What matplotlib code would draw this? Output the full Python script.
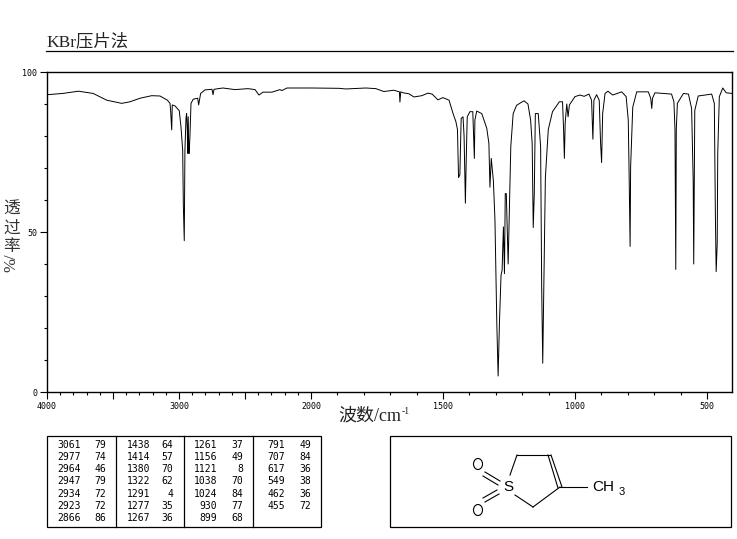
import matplotlib
matplotlib.use('Agg')
import numpy as np
import matplotlib.pyplot as plt
from matplotlib.patches import Ellipse

plt.rcParams['font.family'] = ['Noto Sans CJK SC', 'DejaVu Sans']

# spectrum, wavenumber / %T
wavenumber = [4000, 3880, 3762, 3650, 3548, 3434, 3371, 3295, 3207, 3144, 3088, 3068, 3063, 3055, 3051,
              3030, 2998, 2985, 2972, 2967, 2960, 2955, 2947, 2942, 2937, 2934, 2930, 2926, 2923, 2917,
              2909, 2892, 2858, 2851, 2836, 2803, 2750, 2742, 2735, 2667, 2576, 2477, 2424, 2394, 2364,
              2296, 2235, 2220, 2182, 2106, 2000, 1894, 1868, 1792, 1754, 1724, 1686, 1665, 1663, 1660,
              1651, 1629, 1610, 1580, 1557, 1541, 1519, 1500, 1477, 1462, 1451, 1445, 1441, 1436, 1431,
              1424, 1420, 1415, 1412, 1408, 1398, 1387, 1381, 1379, 1372, 1353, 1334, 1326, 1322, 1317,
              1309, 1303, 1296, 1291, 1286, 1280, 1276, 1271, 1267, 1264, 1260, 1253, 1246, 1243, 1234,
              1221, 1193, 1178, 1168, 1162, 1158, 1154, 1150, 1139, 1130, 1126, 1122, 1118, 1112, 1101,
              1085, 1059, 1047, 1043, 1040, 1037, 1031, 1026, 1021, 1000, 981, 965, 947, 937, 932,
              928, 918, 908, 903, 899, 895, 886, 875, 857, 823, 806, 798, 795, 791, 789,
              781, 766, 722, 713, 709, 706, 697, 634, 625, 621, 618, 616, 612, 589, 570,
              558, 552, 550, 548, 546, 533, 482, 472, 468, 465, 461, 459, 453, 440, 427, 405]
transmittance = [92.9, 93.3, 94, 93.3, 91.2, 90.2, 90.7, 91.8, 92.6, 92.5, 91.2, 90.2, 87.6, 81.9, 89.7,
                 89.4, 87.9, 82.9, 75.6, 58.4, 47.3, 75.6, 85.5, 87, 81.9, 74.6, 86, 74.6, 74.5, 80,
                 90.2, 91.5, 91.8, 89.7, 93.3, 94.4, 94.6, 92.9, 94.6, 95, 94.5, 94.8, 94.5, 92.8, 93.7,
                 93.7, 94.5, 94.2, 95, 95, 95, 94.9, 94.7, 95, 94.8, 93.9, 94.3, 93.8, 90.6, 93.8,
                 93.5, 93.2, 92.2, 92.6, 93.4, 93.1, 91.3, 92, 91.2, 87.1, 84.5, 82, 67, 67.8, 85.5,
                 86, 80, 59, 72, 86, 87.6, 87.6, 73, 85, 87.8, 87, 82.4, 77.7, 64, 73,
                 66, 53.8, 21.5, 5, 21.5, 36.5, 38, 51.6, 37, 62, 62, 40, 66, 76.7, 87,
                 89.6, 91, 90, 85, 77.7, 51.4, 62, 87, 87, 76.7, 33, 9, 33, 67, 82,
                 87.6, 90.7, 90.7, 82, 73, 84, 90, 86, 89.7, 92.3, 92.8, 92.4, 93.1, 91.2, 79,
                 91.2, 92.9, 91.2, 78, 71.7, 87, 93.3, 94, 92.8, 93.8, 92.3, 85, 69.4, 45.5, 70.4,
                 89, 93.8, 93.8, 91.8, 88.6, 91.8, 93.5, 93.1, 90.7, 82, 38.3, 82, 90.2, 93.3, 93.1,
                 88.6, 66, 40, 66, 88, 92.5, 93.1, 90.2, 55.8, 37.6, 46.5, 74.6, 92.3, 95, 93.5, 93.3]

# peak table, printed as it is in the picture
table_columns = [
    ['3061  79', '2977  74', '2964  46', '2947  79', '2934  72', '2923  72', '2866  86'],
    ['1438  64', '1414  57', '1380  70', '1322  62', '1291   4', '1277  35', '1267  36'],
    ['1261  37', '1156  49', '1121   8', '1038  70', '1024  84', ' 930  77', ' 899  68'],
    [' 791  49', ' 707  84', ' 617  36', ' 549  38', ' 462  36', ' 455  72', ''],
]

x_major = [4000, 3500, 3000, 2500, 2000, 1500, 1000, 500]
x_labels = ['4000', '', '3000', '', '2000', '1500', '1000', '500']
y_major = [0, 50, 100]

W, H = 737, 539


def wn_to_scale(v):
    v = np.asarray(v, dtype=float)
    return -np.where(v >= 2000, (4000 - v) * 0.132, 264 + (2000 - v) * 0.264)


def scale_to_wn(p):
    p = -np.asarray(p, dtype=float)
    return np.where(p <= 264, 4000 - p / 0.132, 2000 - (p - 264) / 0.264)


fig = plt.figure(figsize=(W / 100, H / 100), dpi=100)

ax = fig.add_axes([47 / W, 1 - 392 / H, (732 - 47) / W, 320 / H])
ax.set_xscale('function', functions=(wn_to_scale, scale_to_wn))
ax.set_xlim(4000, 405)
ax.set_ylim(0, 100)
ax.plot(wavenumber, transmittance, color='black', lw=0.7, antialiased=True)

ax.set_xticks(x_major, x_labels)
ax.set_xticks([v for v in range(3900, 400, -100) if v % 500], minor=True)
ax.set_yticks(y_major)
ax.set_yticks([v for v in range(10, 100, 10) if v != 50], minor=True)
ax.tick_params(axis='both', which='major', length=5, width=0.8, labelsize=6, pad=2)
ax.tick_params(axis='both', which='minor', length=2, width=0.8)
for label in ax.get_xticklabels() + ax.get_yticklabels():
    label.set_family('DejaVu Sans Mono')
for s in ax.spines.values():
    s.set_linewidth(1)

# full-figure overlay in pixels for title, labels, table and structure
ov = fig.add_axes([0, 0, 1, 1])
ov.set_xlim(0, W)
ov.set_ylim(H, 0)
ov.axis('off')

ov.text(46, 42, 'KBr压片法', fontsize=12.5, ha='left', va='center', color='#222222',
        family=['Liberation Serif', 'Noto Sans CJK SC'])
ov.plot([46, 733], [50.5, 50.5], color='black', lw=0.9)

ov.text(11.5, 209, '透', fontsize=12, ha='center', va='center', color='#333333')
ov.text(11.5, 228, '过', fontsize=12, ha='center', va='center', color='#333333')
ov.text(11.5, 246, '率', fontsize=12, ha='center', va='center', color='#333333')
ov.text(11.5, 263, '%/', fontsize=12, ha='center', va='center', rotation=90, color='#333333',
        family='Liberation Serif')

ov.text(338, 416, '波数/cm', fontsize=13, ha='left', va='center', color='#222222',
        family=['Liberation Serif', 'Noto Sans CJK SC'])
ov.text(402, 411, '-1', fontsize=7, ha='left', va='center', color='#222222', family='Liberation Serif')

# peak table
ov.add_patch(plt.Rectangle((47.5, 435.5), 274, 91, fill=False, ec='black', lw=0.9))
for xc in [116.5, 184.5, 253.5]:
    ov.plot([xc, xc], [435.5, 526.5], color='black', lw=0.9)
col_wn_right = [81, 150, 217, 285]
col_pct_right = [106, 173, 243, 311]
for col, wn_right, pct_right in zip(table_columns, col_wn_right, col_pct_right):
    for i, row in enumerate(col):
        if not row:
            continue
        wn, pct = row.split()
        y = 444.5 + i * 12.3
        ov.text(wn_right, y, wn, fontsize=7, family='DejaVu Sans Mono', ha='right', va='center')
        ov.text(pct_right, y, pct, fontsize=7, family='DejaVu Sans Mono', ha='right', va='center')

# structure box
ov.add_patch(plt.Rectangle((390.5, 435.5), 341, 91, fill=False, ec='black', lw=0.9))
bonds = [((510, 475), (517, 455)), ((517, 455), (550, 455)), ((548, 455), (558, 488)),
         ((551, 455), (562, 487)), ((560, 487), (533, 507)), ((533, 507), (515, 495)),
         ((560, 487), (587, 487)), ((485, 472), (500, 481)), ((483, 476), (498, 485)),
         ((485, 502), (499, 494)), ((483, 498), (497, 490))]
for p, q in bonds:
    ov.plot([p[0], q[0]], [p[1], q[1]], color='black', lw=0.8)
ov.add_patch(Ellipse((478, 464), 9, 11, fill=False, ec='black', lw=0.8))
ov.add_patch(Ellipse((478, 510), 9, 11, fill=False, ec='black', lw=0.8))
ov.text(508, 487, 'S', fontsize=11, ha='center', va='center', family='Liberation Sans')
ov.text(592, 487, 'CH', fontsize=11, ha='left', va='center', family='Liberation Sans')
ov.text(619, 492, '3', fontsize=8, ha='left', va='center', family='Liberation Sans')

fig.savefig('out.png', dpi=100)
